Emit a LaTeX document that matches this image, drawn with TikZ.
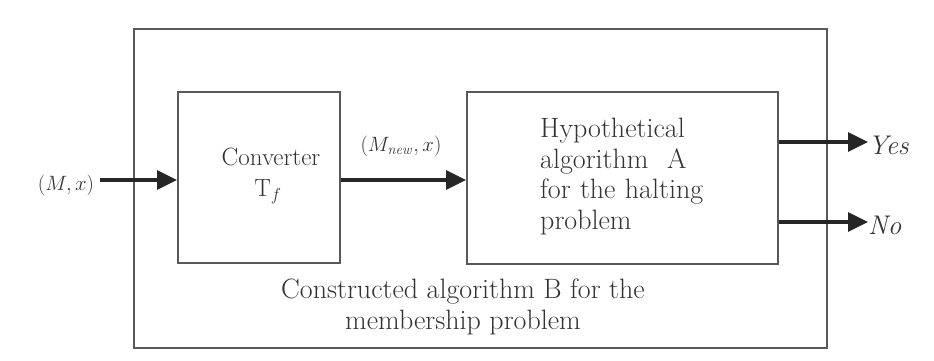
\documentclass[tikz,border=0pt]{standalone}
\usepackage{amsmath}
\usetikzlibrary{arrows.meta}
\definecolor{boxgray}{gray}{0.35}
\definecolor{txtgray}{gray}{0.2}
\tikzset{
  frame/.style={draw=boxgray, line width=1.8pt},
  flow/.style={draw=black!85, line width=3.2pt, -{Triangle[length=20pt,width=19pt]}},
  lbl/.style={text=txtgray, font=\fontsize{28}{30.5}\selectfont, inner sep=0pt},
}
\begin{document}
\begin{tikzpicture}[x=1pt,y=-1pt]
\useasboundingbox (0,0) rectangle (934,360);
\node[frame, minimum width=693pt, minimum height=319pt, anchor=north west, inner sep=0pt] (outer) at (133,28) {};
\node[frame, minimum width=162pt, minimum height=171pt, anchor=north west, inner sep=0pt] (conv) at (177,91) {};
\node[frame, minimum width=311pt, minimum height=172pt, anchor=north west, inner sep=0pt] (hyp) at (466,91) {};
\node[lbl, font=\fontsize{25}{30}\selectfont] (convtxt) at (271,157) {Converter};
\node[lbl, font=\fontsize{25}{30}\selectfont] (tf) at (268,192) {$\mathrm{T}_f$};
\node[lbl, align=left, anchor=north west, text width=230pt] (hyptxt) at (540,118) {Hypothetical\\algorithm\ \ A\\for the halting\\problem};
\node[lbl, align=center] (btxt) at (463,307) {Constructed algorithm B for the\\membership problem};
\node[lbl, font=\fontsize{22}{26}\selectfont] (in) at (66,185) {$(M,x)$};
\node[lbl, font=\fontsize{22}{26}\selectfont] (mid) at (401,146) {$(M_{\mathit{new}},x)$};
\node[lbl, font=\fontsize{27}{30}\selectfont\itshape, anchor=west] (yes) at (868,145) {Yes};
\node[lbl, font=\fontsize{27}{30}\selectfont\itshape, anchor=west] (no) at (868,225) {No};
\coordinate (inA) at (100,180);
\draw[flow] (inA) -- (conv.west |- inA);
\draw[flow] (conv.east |- inA) -- (hyp.west |- inA);
\draw[flow] (hyp.east |- 0,142) -- (yes.west |- 0,142);
\draw[flow] (hyp.east |- 0,222) -- (no.west |- 0,222);
\end{tikzpicture}
\end{document}
